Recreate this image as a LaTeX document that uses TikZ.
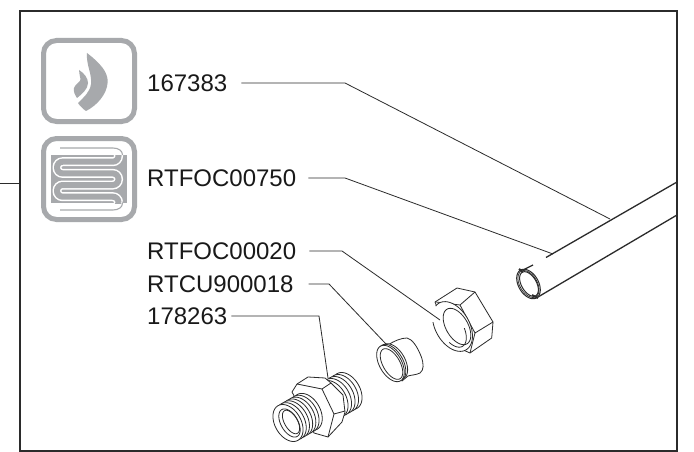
\documentclass[tikz,border=0pt]{standalone}
\usepackage{fontspec}
\setmainfont{Liberation Sans}
\definecolor{icon}{HTML}{A7A9AC}
\definecolor{ink}{HTML}{2B2B2B}
% point on an ellipse whose major axis lies along the image direction (.5,.866)
\newcommand\elarc[7][]{\draw[part,#1] plot[smooth,domain=#6:#7,samples=60] ({#2+(#4)*cos(\x)*0.5+(#5)*sin(\x)*0.866},{#3+(#4)*cos(\x)*0.866-(#5)*sin(\x)*0.5});}
\newcommand\elfull[5][]{\filldraw[part,fill=white,#1] plot[smooth cycle,domain=0:354,samples=60] ({#2+(#4)*cos(\x)*0.5+(#5)*sin(\x)*0.866},{#3+(#4)*cos(\x)*0.866-(#5)*sin(\x)*0.5});}
\tikzset{
  lbl/.style={anchor=west,inner sep=0pt,font=\fontsize{24}{26}\selectfont,text=black!90},
  leader/.style={draw=ink,line width=0.8pt},
  part/.style={draw=ink,line width=0.8pt,line join=round},
  iconbox/.style={draw=icon,line width=5pt,rounded corners=13pt},
}
\begin{document}
\begin{tikzpicture}[x=1pt,y=-1pt]
\useasboundingbox (0,0) rectangle (694,452);
\fill[white] (0,0) rectangle (694,452);
% frame
\draw[ink,line width=1.1pt] (677,11) -- (20,11) -- (20,451) -- (677,451) -- cycle;
\draw[ink,line width=1pt] (0,183) -- (20,183);
% icons
\draw[iconbox] (43.5,40.5) rectangle (134.5,121.5);
\draw[iconbox] (43.5,138.5) rectangle (134.5,219.5);
% flame
\fill[icon] (87,53) .. controls (100,63) and (108,72) .. (107.7,82)
  .. controls (107,95) and (96,106) .. (86,111)
  .. controls (83,109) and (80,106) .. (78,103)
  .. controls (84,97) and (90,92) .. (91,84)
  .. controls (92,73) and (86,65) .. cycle;
\fill[icon] (79,70) .. controls (84,73) and (88,78) .. (88,83)
  .. controls (88,89) and (82,94) .. (77,98)
  .. controls (75,95) and (73,91) .. (74,88)
  .. controls (75,84) and (81,82) .. (80.5,79)
  .. controls (80,76) and (79,73) .. cycle;
% serpentine
\fill[icon] (51,155) rectangle (127,203);
\begin{scope}
\clip (51,155) rectangle (127,203);
\draw[white,line width=9pt,rounded corners=5.7pt]
  (60,150) -- (118.5,150) -- (118.5,161.7) -- (57,161.7) -- (57,173.4) -- (118.5,173.4) -- (118.5,185) -- (57,185) -- (57,196.7) -- (118.5,196.7) -- (118.5,208) -- (60,208);
\draw[icon,line width=6pt,rounded corners=5.7pt]
  (60,150) -- (118.5,150) -- (118.5,161.7) -- (57,161.7) -- (57,173.4) -- (118.5,173.4) -- (118.5,185) -- (57,185) -- (57,196.7) -- (118.5,196.7) -- (118.5,208) -- (60,208);
\end{scope}
\draw[icon,line width=1.1pt] (60,148) -- (113,148) .. controls (119,148) and (122.5,151) .. (122.5,155);
\draw[icon,line width=1.1pt] (60,210) -- (113,210) .. controls (119,210) and (122.5,207) .. (122.5,203);
% labels
\node[lbl] (n1) at (147,83) {167383};
\node[lbl] (n2) at (147,178) {RTFOC00750};
\node[lbl] (n3) at (147,251) {RTFOC00020};
\node[lbl] (n4) at (147,284) {RTCU900018};
\node[lbl] (n5) at (147,316) {178263};
% pipe
\draw[part,line width=1.3pt] (677,182) -- (546,257.5);
\draw[part,line width=1.3pt] (533,265) -- (521,271);
\draw[part,line width=1.3pt] (677,215) -- (538,297);
\elfull[line width=1pt]{528.5}{284}{16}{10}
\elarc[line width=1pt]{529}{284}{13.5}{7.5}{0}{360}
\elarc[line width=0.7pt]{528.5}{284}{14.7}{8.7}{0}{360}
\draw[ink,line width=2pt] (519,269) -- (523,272);
\draw[ink,line width=2pt] (532,295) -- (538,298);
% nut
\filldraw[part,fill=white] (435,302) -- (457,288) -- (475,292) -- (493,322) -- (491.7,338) -- (470,353) -- (452,345) -- cycle;
\draw[part] (436,302) -- (460,305) -- (475,292);
\draw[part] (460,305) -- (475,333) -- (493,322);
\draw[part] (475,333) -- (470,353);
\fill[white] plot[smooth cycle,domain=0:354,samples=60] ({452.5+27*cos(\x)*0.5+17*sin(\x)*0.866},{326.5+27*cos(\x)*0.866-17*sin(\x)*0.5});
\elarc{452.5}{326.5}{27}{17}{-120}{195}
\elarc{457}{326.5}{20}{11}{0}{360}
\elarc{452.5}{329}{20}{11}{-60}{75}
% sleeve
\filldraw[part,fill=white] (388,345) .. controls (394,341) and (401,338) .. (407,338)
  .. controls (412,339) and (417,346) .. (421,356)
  .. controls (424,364) and (424,370) .. (420,373)
  .. controls (416,375) and (411,375) .. (408,376) -- (402,381) -- cycle;
\elfull{394}{361.5}{19.5}{11}
\elfull{392}{362.5}{20}{11}
\elfull{390.5}{363.5}{20}{11}
\elarc{391.5}{364}{17}{8.5}{0}{360}
% fitting: rear thread
\foreach \k in {0,...,4}{
  \pgfmathsetmacro\cxx{347-\k*3.5}
  \pgfmathsetmacro\cyy{391+\k*2}
  \elfull{\cxx}{\cyy}{20}{13}
}
% fitting: hexagon
\filldraw[part,fill=white] (292,392) -- (297,384) -- (308,377) -- (325,378) -- (331,383) -- (343,395) -- (345,412) -- (342,422) -- (328,437) -- (314,433) -- cycle;
\draw[part] (297,384) -- (322,389) -- (331,383);
\draw[part] (322,389) -- (334,414) -- (345,411);
\draw[part] (334,414) -- (328,437);
% fitting: front thread
\foreach \k in {6,...,0}{
  \pgfmathsetmacro\cxx{288+\k*3.2}
  \pgfmathsetmacro\cyy{423-\k*1.85}
  \elfull{\cxx}{\cyy}{20}{13}
}
\elarc{289.5}{423}{15.5}{8.5}{0}{360}
\elarc{291}{422}{13}{6.5}{0}{360}
% leader ends
\coordinate (e1) at (610,219);
\coordinate (e2) at (553,254);
\coordinate (e3) at (440,320);
\coordinate (e4) at (386,344);
\coordinate (e5) at (328,378);
\draw[leader] ([xshift=14pt]n1.east) -- (345,83) -- (e1);
\draw[leader] ([xshift=12pt]n2.east) -- (345,178) -- (e2);
\draw[leader] ([xshift=13pt]n3.east) -- (342,251) -- (e3);
\draw[leader] ([xshift=15pt]n4.east) -- (329,284) -- (e4);
\draw[leader] ([xshift=4pt]n5.east) -- (319,316) -- (e5);
\end{tikzpicture}
\end{document}
